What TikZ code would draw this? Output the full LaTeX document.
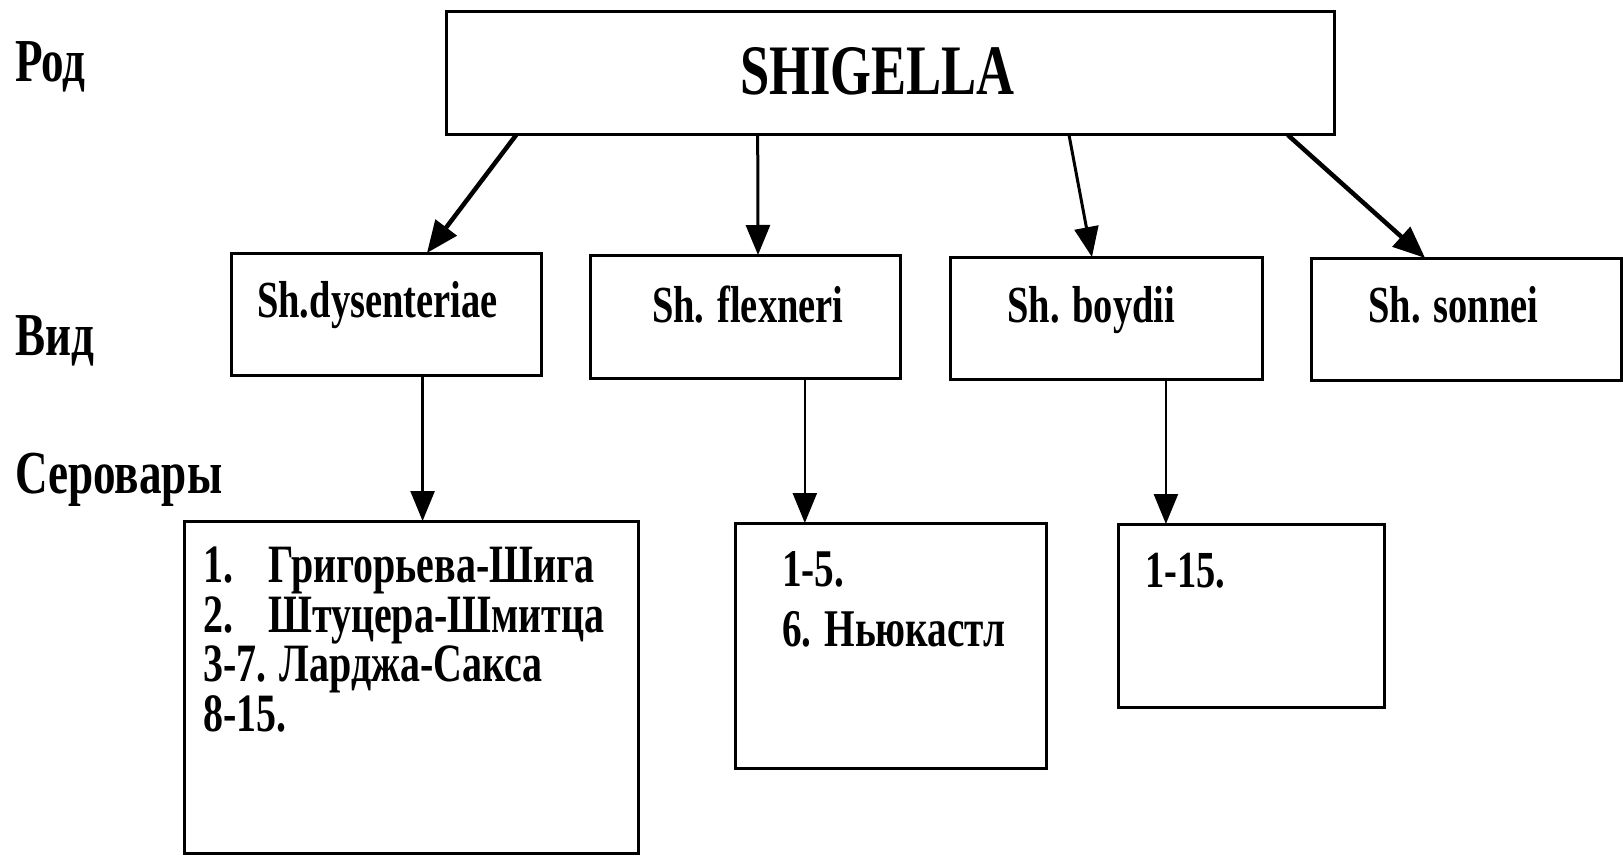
\documentclass[tikz,border=0pt]{standalone}
\usepackage{fontspec}
\newfontfamily\nf{Liberation Serif}[FakeStretch=0.74]
\usetikzlibrary{arrows.meta,calc}
\begin{document}
\begin{tikzpicture}[x=1pt,y=-1pt,
  box/.style={draw,line width=3pt,inner sep=0pt,outer sep=0pt,anchor=north west},
  lbl/.style={inner sep=0pt,anchor=base west,align=left},
  arr/.style={line width=3pt,-{Triangle[length=30pt,width=24pt]}},
  thickarr/.style={line width=4.5pt,-{Triangle[length=32pt,width=26pt]}},
  thinarr/.style={line width=2.5pt,-{Triangle[length=30pt,width=24pt]}}]
\fill[white] (0,0) rectangle (1623,856);
\useasboundingbox (0,0) rectangle (1623,856);
% level labels
\node[lbl,font=\nf\bfseries\fontsize{61}{61}\selectfont] (rod) at (15,82) {Род};
\node[lbl,font=\nf\bfseries\fontsize{61}{61}\selectfont] (vid) at (15,355) {Вид};
\node[lbl,font=\nf\bfseries\fontsize{61}{61}\selectfont] (ser) at (15,493) {Серовары};
% boxes
\node[box,minimum width=888pt,minimum height=123pt] (g) at (446,12) {};
\node[box,minimum width=310pt,minimum height=122pt] (d) at (231,253) {};
\node[box,minimum width=310pt,minimum height=123pt] (f) at (590,255) {};
\node[box,minimum width=312pt,minimum height=122pt] (b) at (950,257) {};
\node[box,minimum width=310pt,minimum height=122pt] (s) at (1311,258) {};
\node[box,minimum width=454pt,minimum height=332pt] (d1) at (184,521) {};
\node[box,minimum width=311pt,minimum height=245pt] (f1) at (735,523) {};
\node[box,minimum width=266pt,minimum height=183pt] (b1) at (1118,524) {};
% texts
\node[lbl,font=\nf\bfseries\fontsize{71}{71}\selectfont] (gt) at (740,95) {SHIGELLA};
\node[lbl,font=\nf\bfseries\fontsize{52}{52}\selectfont] (dt) at (257,317) {Sh.dysenteriae};
\node[lbl,font=\nf\bfseries\fontsize{52}{52}\selectfont] (ft) at (652,322) {Sh. flexneri};
\node[lbl,font=\nf\bfseries\fontsize{52}{52}\selectfont] (bt) at (1007,322) {Sh. boydii};
\node[lbl,font=\nf\bfseries\fontsize{52}{52}\selectfont] (st) at (1368,322) {Sh. sonnei};
\node[lbl,anchor=north west,font=\nf\bfseries\fontsize{54}{49.5}\selectfont] (d1t) at (203,547)
  {\makebox[65pt][l]{1.}Григорьева-Шига\\\makebox[65pt][l]{2.}Штуцера-Шмитца\\3-7. Ларджа-Сакса\\8-15.};
\node[lbl,anchor=north west,font=\nf\bfseries\fontsize{53}{60}\selectfont] (f1t) at (782,551)
  {1-5.\\6. Ньюкастл};
\node[lbl,font=\nf\bfseries\fontsize{52}{52}\selectfont] (b1t) at (1145,587) {1-15.};
% arrows
\draw[thickarr] ($(g.south west)!0.079!(g.south east)$) -- ($(d.north west)!0.632!(d.north east)$);
\draw[arr] ($(g.south west)!0.351!(g.south east)$) -- ($(f.north west)!0.542!(f.north east)$);
\draw[arr] ($(g.south west)!0.7016!(g.south east)$) -- ($(b.north west)!0.455!(b.north east)$);
\draw[thickarr] ($(g.south west)!0.948!(g.south east)$) -- ($(s.north west)!0.368!(s.north east)$);
\coordinate (dd) at ($(d.south west)!0.618!(d.south east)$);
\coordinate (fd) at ($(f.south west)!0.693!(f.south east)$);
\coordinate (bd) at ($(b.south west)!0.692!(b.south east)$);
\draw[thinarr] (dd) -- (dd |- d1.north);
\draw[thinarr] (fd) -- (fd |- f1.north);
\draw[thinarr] (bd) -- (bd |- b1.north);
\end{tikzpicture}
\end{document}
